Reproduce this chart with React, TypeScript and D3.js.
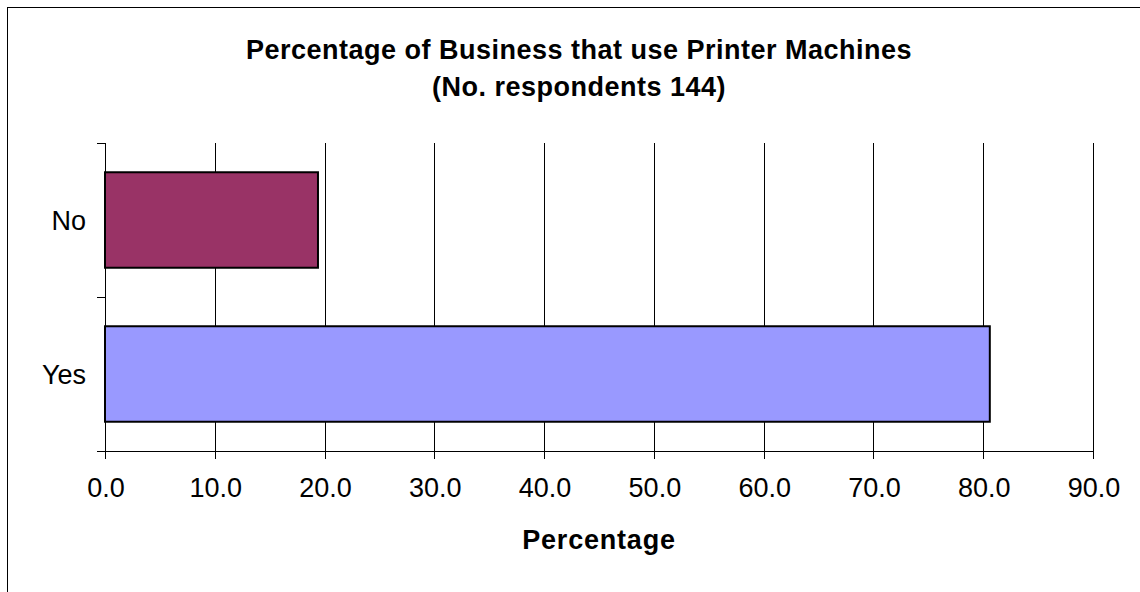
import React from "react";
import * as d3 from "d3";

const categories = ["No", "Yes"];
const values = [19.4, 80.6];
const colors = ["#993366", "#9999FF"];
const xTicks = [0, 10, 20, 30, 40, 50, 60, 70, 80, 90];
const titleLines = ["Percentage of Business that use Printer Machines", "(No. respondents 144)"];
const xAxisTitle = "Percentage";

export default function App() {
  const W = 1140, H = 592;
  const left = 105, right = 1093, top = 143, bottom = 451;
  const x = d3.scaleLinear().domain([0, 90]).range([left, right]);
  const y = d3.scaleBand<string>().domain(categories).range([top, bottom]).paddingInner(0.38).paddingOuter(0.19);
  const step = y.step();
  const catTicks = d3.range(categories.length + 1).map((i) => top + i * step);
  const font = "'Liberation Sans', Arial, sans-serif";
  return (
    <svg width={W} height={H} style={{ position: "absolute", left: 0, top: 0, background: "#fff" }} fontFamily={font}>
      <rect x={7.5} y={7.5} width={1160} height={620} fill="#fff" stroke="#000" strokeWidth={1} />
      <g fontWeight="bold" fontSize={27} textAnchor="middle" letterSpacing={0.5}>
        <text x={579} y={59}>{titleLines[0]}</text>
        <text x={579} y={96}>{titleLines[1]}</text>
      </g>
      {xTicks.slice(1).map((t) => (
        <line key={"g" + t} x1={Math.round(x(t)) + 0.5} x2={Math.round(x(t)) + 0.5} y1={top} y2={bottom} stroke="#000" strokeWidth={1} />
      ))}
      {categories.map((c, i) => (
        <rect key={c} x={x(0)} y={y(c)!} width={x(values[i]) - x(0)} height={y.bandwidth()} fill={colors[i]} stroke="#000" strokeWidth={2} />
      ))}
      <line x1={left + 0.5} x2={left + 0.5} y1={top} y2={bottom} stroke="#000" />
      <line x1={left} x2={right} y1={bottom + 0.5} y2={bottom + 0.5} stroke="#000" />
      {catTicks.map((t, i) => (
        <line key={"ct" + i} x1={left - 8} x2={left} y1={Math.round(t) + 0.5} y2={Math.round(t) + 0.5} stroke="#000" />
      ))}
      {xTicks.map((t) => (
        <line key={"xt" + t} x1={Math.round(x(t)) + 0.5} x2={Math.round(x(t)) + 0.5} y1={bottom} y2={bottom + 8} stroke="#000" />
      ))}
      <g fontSize={27} textAnchor="middle">
        {xTicks.map((t) => (
          <text key={"xl" + t} x={x(t) + 1} y={497}>{t.toFixed(1)}</text>
        ))}
      </g>
      <g fontSize={27} textAnchor="end">
        {categories.map((c) => (
          <text key={"yl" + c} x={86} y={y(c)! + y.bandwidth() / 2 + 9.5}>{c}</text>
        ))}
      </g>
      <text x={599} y={549} fontSize={27} fontWeight="bold" textAnchor="middle" letterSpacing={0.8}>{xAxisTitle}</text>
    </svg>
  );
}
